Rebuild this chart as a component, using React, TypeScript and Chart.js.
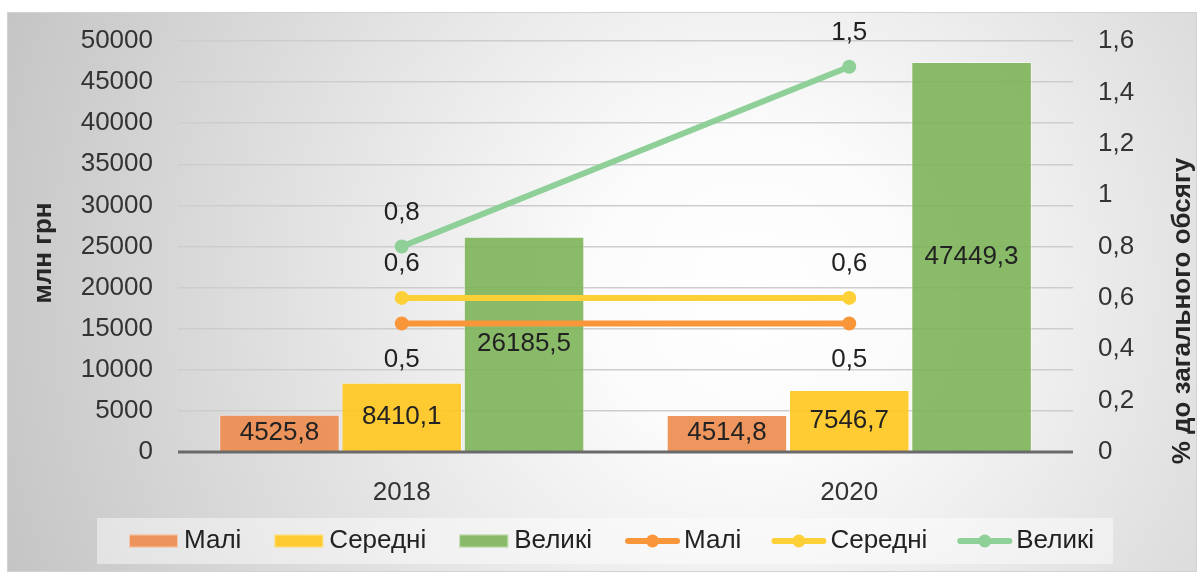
import React, { useEffect, useRef } from 'react';
import { Chart, registerables } from 'chart.js';

Chart.register(...registerables);

// ---- data ----
const years = ['2018', '2020'];
const seriesNames = ['Малі', 'Середні', 'Великі'];
const volumeSmall = [4525.8, 4514.8];
const volumeMedium = [8410.1, 7546.7];
const volumeLarge = [26185.5, 47449.3];
const shareSmall = [0.5, 0.5];
const shareMedium = [0.6, 0.6];
const shareLarge = [0.8, 1.5];
const leftAxisTitle = 'млн грн';
const rightAxisTitle = '% до загального обсягу';
const leftAxisMax = 50000;
const leftAxisStep = 5000;
const rightAxisMax = 1.6;
const rightAxisStep = 0.2;

const FONT = "'Liberation Sans', Arial, sans-serif";
const fmt = (v: number) => String(Math.round(v * 10) / 10).replace('.', ',');

const backgroundPlugin = {
  id: 'bgBox',
  beforeDraw(chart: any) {
    const { ctx, width, height } = chart;
    ctx.save();
    ctx.fillStyle = '#ffffff';
    ctx.fillRect(0, 0, width, height);
    const g = ctx.createRadialGradient(750, 290, 0, 750, 290, 800);
    g.addColorStop(0, '#ffffff');
    g.addColorStop(0.2, '#fbfbfb');
    g.addColorStop(1, '#c4c4c4');
    ctx.fillStyle = g;
    ctx.fillRect(7, 12, width - 7, height - 12);
    ctx.strokeStyle = '#d2d2d2';
    ctx.lineWidth = 1;
    ctx.strokeRect(7.5, 12.5, width - 8, height - 13);
    ctx.restore();
  },
};

const labelsPlugin = {
  id: 'valueLabels',
  afterDatasetsDraw(chart: any) {
    const { ctx, chartArea } = chart;
    const y0 = chart.scales.y.getPixelForValue(0);
    ctx.save();
    ctx.strokeStyle = '#6a6a6a';
    ctx.lineWidth = 3;
    ctx.beginPath();
    ctx.moveTo(chartArea.left, y0);
    ctx.lineTo(chartArea.right, y0);
    ctx.stroke();

    ctx.font = `26px ${FONT}`;
    ctx.fillStyle = '#222222';
    ctx.textAlign = 'center';
    ctx.textBaseline = 'middle';
    chart.data.datasets.forEach((ds: any, i: number) => {
      const meta = chart.getDatasetMeta(i);
      if (meta.hidden) return;
      meta.data.forEach((el: any, j: number) => {
        const v = ds.data[j];
        let y: number;
        if (meta.type === 'bar') {
          y = (el.y + el.base) / 2;
        } else {
          y = ds.labelPos === 'below' ? el.y + 36 : el.y - 34;
        }
        ctx.fillText(fmt(v), el.x, y);
      });
    });
    ctx.restore();
  },
};

const decorPlugin = {
  id: 'decor',
  afterDraw(chart: any) {
    const { ctx } = chart;
    ctx.save();
    // axis titles
    ctx.font = `bold 26px ${FONT}`;
    ctx.fillStyle = '#262626';
    ctx.textAlign = 'center';
    ctx.textBaseline = 'middle';
    ctx.save();
    ctx.translate(44, 253);
    ctx.rotate(-Math.PI / 2);
    ctx.fillText(leftAxisTitle, 0, 0);
    ctx.restore();
    ctx.save();
    ctx.translate(1183, 311);
    ctx.rotate(-Math.PI / 2);
    ctx.fillText(rightAxisTitle, 0, 0);
    ctx.restore();

    // legend
    const boxL = 97, boxT = 518, boxR = 1113, boxB = 564;
    ctx.fillStyle = 'rgba(255,255,255,0.45)';
    ctx.fillRect(boxL, boxT, boxR - boxL, boxB - boxT);
    ctx.font = `26px ${FONT}`;
    ctx.textAlign = 'left';
    ctx.textBaseline = 'middle';
    const cy = 541;
    let x = 129;
    chart.data.datasets.forEach((ds: any, i: number) => {
      const meta = chart.getDatasetMeta(i);
      const isBar = meta.type === 'bar';
      if (isBar) {
        ctx.fillStyle = ds.backgroundColor;
        ctx.fillRect(x, cy - 6.5, 49, 13);
        ctx.strokeStyle = 'rgba(255,255,255,0.5)';
        ctx.lineWidth = 1;
        ctx.strokeRect(x + 0.5, cy - 6, 48, 12);
        x += 49 + 6;
      } else {
        ctx.strokeStyle = ds.borderColor;
        ctx.lineWidth = 6;
        ctx.lineCap = 'round';
        ctx.beginPath();
        ctx.moveTo(x + 3, cy);
        ctx.lineTo(x + 52, cy);
        ctx.stroke();
        ctx.fillStyle = ds.borderColor;
        ctx.beginPath();
        ctx.arc(x + 27.5, cy, 6.5, 0, Math.PI * 2);
        ctx.fill();
        x += 55 + 4;
      }
      ctx.fillStyle = '#222222';
      ctx.fillText(ds.label, x, cy);
      x += ctx.measureText(ds.label).width + (isBar ? 33 : 30);
    });
    ctx.restore();
  },
};

export default function App() {
  const canvasRef = useRef<HTMLCanvasElement | null>(null);

  useEffect(() => {
    if (!canvasRef.current) return;
    const barColors = ['rgba(237,138,76,0.9)', 'rgba(255,198,30,0.9)', 'rgba(124,180,88,0.9)'];
    const lineColors = ['#F9963A', '#FDD038', '#8ED098'];
    const barData = [volumeSmall, volumeMedium, volumeLarge];
    const lineData = [shareSmall, shareMedium, shareLarge];
    const labelPositions = ['below', 'above', 'above'];

    const datasets: any[] = [];
    seriesNames.forEach((name, i) => {
      datasets.push({
        type: 'bar',
        label: name,
        data: barData[i],
        yAxisID: 'y',
        backgroundColor: barColors[i],
        borderColor: 'rgba(255,255,255,0.45)',
        borderWidth: 1,
        categoryPercentage: 0.82,
        barPercentage: 0.985,
        order: 2,
      });
    });
    seriesNames.forEach((name, i) => {
      datasets.push({
        type: 'line',
        label: name,
        data: lineData[i],
        yAxisID: 'y1',
        borderColor: lineColors[i],
        backgroundColor: lineColors[i],
        borderWidth: 6,
        pointRadius: 7,
        pointBorderWidth: 0,
        pointBackgroundColor: lineColors[i],
        tension: 0,
        fill: false,
        order: 1,
        labelPos: labelPositions[i],
      });
    });

    const tickFont = { family: FONT, size: 26 };
    const chart = new Chart(canvasRef.current, {
      type: 'bar',
      data: { labels: years, datasets },
      options: {
        animation: false,
        responsive: true,
        maintainAspectRatio: false,
        devicePixelRatio: 1,
        layout: { padding: { left: 0, right: 0, top: 41, bottom: 0 } },
        plugins: {
          legend: { display: false },
          tooltip: { enabled: false },
          title: { display: false },
        },
        scales: {
          x: {
            type: 'category',
            offset: true,
            grid: { display: false },
            border: { display: false },
            ticks: { font: tickFont, color: '#333333', padding: 17 },
            afterFit: (s: any) => {
              s.height = 120;
            },
          },
          y: {
            type: 'linear',
            position: 'left',
            min: 0,
            max: leftAxisMax,
            ticks: {
              stepSize: leftAxisStep,
              font: tickFont,
              color: '#333333',
              padding: 25,
              callback: (v: any) => String(v),
            },
            grid: {
              drawTicks: false,
              lineWidth: 1.5,
              color: (c: any) => (c.tick && c.tick.value === 0 ? 'rgba(0,0,0,0)' : '#cdcdcd'),
            },
            border: { display: false },
            afterFit: (s: any) => {
              s.width = 178;
            },
          },
          y1: {
            type: 'linear',
            position: 'right',
            min: 0,
            max: rightAxisMax,
            ticks: {
              stepSize: rightAxisStep,
              font: tickFont,
              color: '#333333',
              padding: 25,
              callback: (v: any) => fmt(Number(v)),
            },
            grid: { display: false, drawTicks: false },
            border: { display: false },
            afterFit: (s: any) => {
              s.width = 124;
            },
          },
        },
      } as any,
      plugins: [backgroundPlugin, labelsPlugin, decorPlugin],
    });
    return () => chart.destroy();
  }, []);

  return (
    <div style={{ position: 'fixed', left: 0, top: 0, width: 1197, height: 572 }}>
      <canvas ref={canvasRef} />
    </div>
  );
}
